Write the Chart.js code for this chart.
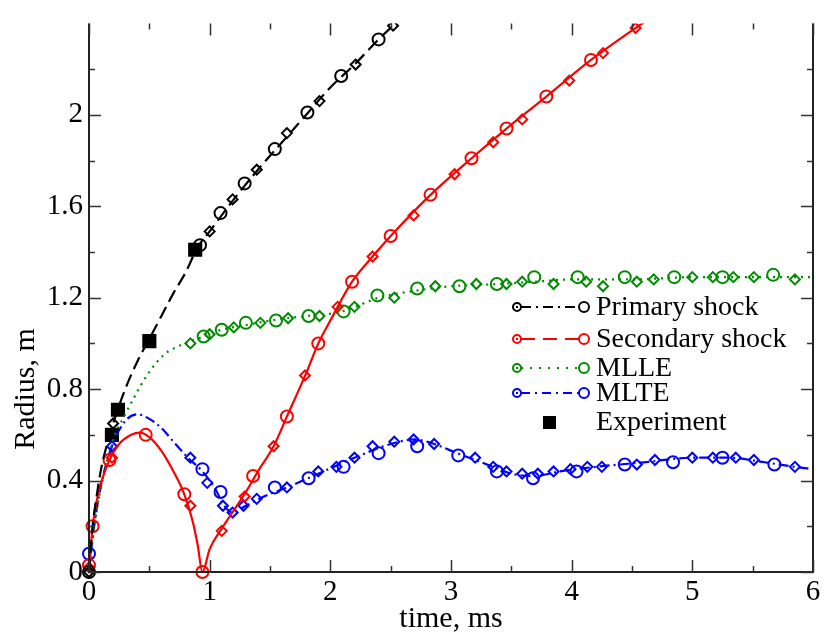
<!DOCTYPE html>
<html>
<head>
<meta charset="utf-8">
<script src="https://cdn.jsdelivr.net/npm/chart.js@4.4.1/dist/chart.umd.min.js"></script>
<style>
html, body { margin: 0; padding: 0; background: #fff; }
#radiusChart { display: block; }
</style>
</head>
<body>
<canvas id="radiusChart" width="824" height="638"></canvas>
<script>
// axis ticks
var xMajor = [0, 1, 2, 3, 4, 5, 6];
var xMinor = [0.5, 1.5, 2.5, 3.5, 4.5, 5.5];
var yMajor = [0, 0.4, 0.8, 1.2, 1.6, 2];
var yMinor = [0.2, 0.6, 1.0, 1.4, 1.8, 2.2];

// Primary shock
var primaryLineX = [0, 0.03, 0.06, 0.1, 0.15, 0.2, 0.3, 0.4, 0.5, 0.6, 0.7, 0.8, 0.9, 1.0, 1.2, 1.4, 1.6, 1.8, 2.0, 2.2, 2.4, 2.6];
var primaryLineY = [0, 0.2, 0.32, 0.45, 0.56, 0.65, 0.80, 0.92, 1.02, 1.12, 1.22, 1.31, 1.42, 1.49, 1.63, 1.76, 1.88, 2.00, 2.12, 2.22, 2.33, 2.43];
var primaryCircX = [0, 0.92, 1.09, 1.29, 1.54, 1.81, 2.09, 2.40];
var primaryCircY = [0, 1.43, 1.57, 1.70, 1.85, 2.01, 2.17, 2.33];
var primaryDiamX = [0, 0.2, 1.0, 1.19, 1.39, 1.64, 1.91, 2.21, 2.52];
var primaryDiamY = [0, 0.65, 1.49, 1.63, 1.76, 1.92, 2.06, 2.22, 2.39];

// Secondary shock
var secondaryLineX = [0, 0.03, 0.08, 0.17, 0.25, 0.35, 0.42, 0.5, 0.6, 0.7, 0.79, 0.86, 0.9, 0.94, 1.0, 1.1, 1.2, 1.3, 1.4, 1.53, 1.64, 1.8, 1.9, 2.0, 2.18, 2.35, 2.5, 2.83, 3.17, 3.46, 3.79, 4.16, 4.53, 4.7];
var secondaryLineY = [0, 0.2, 0.35, 0.49, 0.56, 0.60, 0.61, 0.59, 0.53, 0.44, 0.34, 0.22, 0.12, 0.0, 0.1, 0.19, 0.27, 0.35, 0.44, 0.55, 0.68, 0.87, 1.0, 1.1, 1.27, 1.38, 1.47, 1.65, 1.81, 1.94, 2.08, 2.24, 2.38, 2.44];
var secondaryCircX = [0, 0.03, 0.17, 0.47, 0.79, 0.94, 1.36, 1.64, 1.90, 2.18, 2.50, 2.83, 3.17, 3.46, 3.79, 4.16];
var secondaryCircY = [0.03, 0.2, 0.49, 0.60, 0.34, 0, 0.42, 0.68, 1.00, 1.27, 1.47, 1.65, 1.81, 1.94, 2.08, 2.24];
var secondaryDiamX = [0, 0.19, 0.84, 1.10, 1.29, 1.53, 1.79, 2.06, 2.35, 2.69, 3.03, 3.35, 3.59, 3.98, 4.26, 4.53];
var secondaryDiamY = [0.02, 0.5, 0.29, 0.18, 0.33, 0.55, 0.86, 1.16, 1.38, 1.56, 1.74, 1.88, 1.98, 2.15, 2.27, 2.38];

// MLLE
var mlleLineX = [0, 0.05, 0.1, 0.2, 0.28, 0.37, 0.48, 0.62, 0.75, 0.84, 0.95, 1.1, 1.3, 1.5, 1.8, 2.1, 2.4, 2.7, 3.0, 3.4, 3.7, 4.0, 4.5, 5.0, 5.5, 6.0];
var mlleLineY = [0, 0.22, 0.37, 0.58, 0.67, 0.76, 0.86, 0.95, 0.99, 1.01, 1.03, 1.06, 1.08, 1.10, 1.12, 1.14, 1.20, 1.23, 1.25, 1.26, 1.27, 1.28, 1.28, 1.29, 1.29, 1.29];
var mlleCircX = [0.95, 1.10, 1.30, 1.55, 1.82, 2.11, 2.39, 2.72, 3.07, 3.38, 3.69, 4.05, 4.44, 4.85, 5.25, 5.67];
var mlleCircY = [1.03, 1.06, 1.09, 1.10, 1.12, 1.14, 1.21, 1.24, 1.25, 1.26, 1.29, 1.29, 1.29, 1.29, 1.29, 1.30];
var mlleDiamX = [0.84, 1.0, 1.2, 1.42, 1.65, 1.91, 2.20, 2.53, 2.87, 3.21, 3.46, 3.59, 3.85, 4.12, 4.26, 4.54, 4.68, 5.0, 5.17, 5.34, 5.51, 5.85];
var mlleDiamY = [1.0, 1.04, 1.07, 1.09, 1.11, 1.12, 1.16, 1.20, 1.25, 1.26, 1.26, 1.27, 1.26, 1.27, 1.25, 1.27, 1.28, 1.29, 1.29, 1.29, 1.29, 1.28];

// MLTE
var mlteLineX = [0, 0.03, 0.1, 0.19, 0.3, 0.4, 0.5, 0.6, 0.7, 0.82, 0.94, 1.05, 1.12, 1.19, 1.3, 1.45, 1.64, 1.9, 2.2, 2.5, 2.7, 2.86, 3.05, 3.2, 3.35, 3.5, 3.7, 3.9, 4.2, 4.6, 5.0, 5.3, 5.6, 5.85, 6.0];
var mlteLineY = [0, 0.15, 0.38, 0.55, 0.66, 0.69, 0.67, 0.63, 0.57, 0.50, 0.44, 0.36, 0.29, 0.26, 0.29, 0.33, 0.37, 0.43, 0.50, 0.56, 0.58, 0.56, 0.52, 0.49, 0.46, 0.43, 0.42, 0.44, 0.46, 0.48, 0.50, 0.50, 0.48, 0.46, 0.45];
var mlteCircX = [0, 0.94, 1.09, 1.54, 1.82, 2.11, 2.40, 2.72, 3.06, 3.38, 3.68, 4.04, 4.44, 4.84, 5.25, 5.68];
var mlteCircY = [0.08, 0.45, 0.35, 0.37, 0.41, 0.46, 0.52, 0.55, 0.51, 0.44, 0.41, 0.44, 0.47, 0.48, 0.50, 0.47];
var mlteDiamX = [0.19, 0.84, 0.98, 1.11, 1.19, 1.28, 1.39, 1.64, 1.90, 2.05, 2.20, 2.35, 2.53, 2.69, 2.86, 3.2, 3.35, 3.46, 3.59, 3.72, 3.85, 3.99, 4.13, 4.25, 4.54, 4.69, 5.0, 5.17, 5.36, 5.51, 5.85];
var mlteDiamY = [0.55, 0.50, 0.39, 0.29, 0.26, 0.29, 0.32, 0.37, 0.44, 0.46, 0.50, 0.55, 0.57, 0.58, 0.56, 0.50, 0.46, 0.44, 0.43, 0.43, 0.44, 0.45, 0.46, 0.46, 0.47, 0.49, 0.50, 0.50, 0.50, 0.49, 0.46];

// Experiment
var expX = [0.19, 0.24, 0.5, 0.88];
var expY = [0.6, 0.71, 1.01, 1.41];

var seriesNames = ['Primary shock', 'Secondary shock', 'MLLE', 'MLTE'];
var seriesColors = ['#000000', '#ff0000', '#008b00', '#0000ff'];
var plotDash = [[13, 6], [], [2, 5], [10, 4, 2, 4]];
var legendDash = [[10, 5, 2, 5], [14, 8], [2, 7], [9, 5, 2, 5]];

function pts(xs, ys) {
    return xs.map(function(x, i) { return {x: x, y: ys[i]}; });
}

var seriesData = [
    [primaryLineX, primaryLineY, primaryCircX, primaryCircY, primaryDiamX, primaryDiamY],
    [secondaryLineX, secondaryLineY, secondaryCircX, secondaryCircY, secondaryDiamX, secondaryDiamY],
    [mlleLineX, mlleLineY, mlleCircX, mlleCircY, mlleDiamX, mlleDiamY],
    [mlteLineX, mlteLineY, mlteCircX, mlteCircY, mlteDiamX, mlteDiamY]
];

var datasets = [];
var markerClip = {left: 10, top: 0, right: 10, bottom: 10};
seriesData.forEach(function(s, i) {
    var c = seriesColors[i];
    datasets.push({
        label: seriesNames[i],
        data: pts(s[0], s[1]),
        showLine: true,
        borderColor: c,
        borderWidth: 2.2,
        borderDash: plotDash[i],
        cubicInterpolationMode: 'monotone',
        pointRadius: 0
    });
    datasets.push({
        label: seriesNames[i] + ' (o)',
        data: pts(s[2], s[3]),
        showLine: false,
        pointStyle: 'circle',
        pointRadius: 6,
        pointBorderWidth: 2,
        pointBorderColor: c,
        pointBackgroundColor: 'rgba(0,0,0,0)',
        clip: markerClip
    });
    datasets.push({
        label: seriesNames[i] + ' (d)',
        data: pts(s[4], s[5]),
        showLine: false,
        pointStyle: 'rectRot',
        pointRadius: 5,
        pointBorderWidth: 2,
        pointBorderColor: c,
        pointBackgroundColor: 'rgba(0,0,0,0)',
        clip: markerClip
    });
});
datasets.push({
    label: 'Experiment',
    data: pts(expX, expY),
    showLine: false,
    pointStyle: 'rect',
    pointRadius: 10,
    pointBorderWidth: 0,
    pointBackgroundColor: '#000000',
    clip: markerClip
});

var serif = 'Liberation Serif';

// box, inward ticks on all four sides, axis titles
var frameTicks = {
    id: 'frameTicks',
    afterDatasetsDraw: function(chart) {
        var ctx = chart.ctx, a = chart.chartArea;
        var x = chart.scales.x, y = chart.scales.y;
        ctx.save();
        ctx.strokeStyle = '#222';
        ctx.lineWidth = 2;
        ctx.beginPath();
        ctx.moveTo(a.left, a.top);
        ctx.lineTo(a.left, a.bottom);
        ctx.lineTo(a.right, a.bottom);
        ctx.lineTo(a.right, a.top);
        ctx.stroke();

        ctx.lineWidth = 1.5;
        ctx.strokeStyle = '#333';
        ctx.beginPath();
        function xt(v, len) {
            var p = Math.round(x.getPixelForValue(v)) + 0.5;
            ctx.moveTo(p, a.bottom); ctx.lineTo(p, a.bottom - len);
            ctx.moveTo(p, a.top); ctx.lineTo(p, a.top + len);
        }
        function yt(v, len) {
            var p = Math.round(y.getPixelForValue(v)) + 0.5;
            ctx.moveTo(a.left, p); ctx.lineTo(a.left + len, p);
            ctx.moveTo(a.right, p); ctx.lineTo(a.right - len, p);
        }
        xMajor.forEach(function(v) { xt(v, 12); });
        xMinor.forEach(function(v) { xt(v, 6); });
        yMajor.forEach(function(v) { yt(v, 12); });
        yMinor.forEach(function(v) { yt(v, 6); });
        ctx.stroke();

        ctx.fillStyle = '#000';
        ctx.font = '30px "' + serif + '"';
        ctx.textAlign = 'center';
        ctx.textBaseline = 'middle';
        ctx.fillText('time, ms', (a.left + a.right) / 2, 619);
        ctx.translate(26, 389);
        ctx.rotate(-Math.PI / 2);
        ctx.fillText('Radius, m', 0, 0);
        ctx.restore();
    }
};

// legend inside the plot
var insideLegend = {
    id: 'insideLegend',
    afterDraw: function(chart) {
        var ctx = chart.ctx;
        var rowY = [307, 339, 368, 393, 422];
        var x0 = 517, x1 = 584, tx = 596;
        ctx.save();
        ctx.font = '28px "' + serif + '"';
        ctx.textAlign = 'left';
        ctx.textBaseline = 'middle';
        seriesNames.forEach(function(name, i) {
            var c = seriesColors[i], yy = rowY[i];
            ctx.strokeStyle = c;
            ctx.lineWidth = 2;
            ctx.setLineDash(legendDash[i]);
            ctx.beginPath();
            ctx.moveTo(x0 + 4, yy); ctx.lineTo(x1 - 5, yy);
            ctx.stroke();
            ctx.setLineDash([]);
            ctx.beginPath();
            ctx.arc(x0, yy, 4, 0, Math.PI * 2);
            ctx.stroke();
            ctx.beginPath();
            ctx.arc(x1, yy, 5, 0, Math.PI * 2);
            ctx.stroke();
            ctx.fillStyle = c;
            ctx.fillRect(x0 - 1, yy - 1, 2, 2);
            ctx.fillStyle = '#000';
            ctx.fillText(name, tx, yy + 1);
        });
        ctx.fillStyle = '#000';
        ctx.fillRect(543, rowY[4] - 6, 13, 13);
        ctx.fillText('Experiment', tx, rowY[4] + 1);
        ctx.restore();
    }
};

var ctx = document.getElementById('radiusChart').getContext('2d');
var chart = new Chart(ctx, {
    type: 'scatter',
    data: {datasets: datasets},
    options: {
        responsive: false,
        animation: false,
        devicePixelRatio: 1,
        layout: {padding: {top: 0, right: 11, bottom: 0, left: 0}},
        plugins: {legend: {display: false}, tooltip: {enabled: false}},
        scales: {
            x: {
                type: 'linear',
                min: 0,
                max: 6,
                afterFit: function(scale) { scale.height = 66; },
                afterBuildTicks: function(scale) {
                    scale.ticks = xMajor.map(function(v) { return {value: v}; });
                },
                grid: {display: false, drawTicks: false},
                border: {display: false},
                ticks: {
                    color: '#000',
                    padding: 3,
                    maxRotation: 0,
                    autoSkip: false,
                    font: {family: serif, size: 29},
                    callback: function(v) { return String(v); }
                }
            },
            y: {
                type: 'linear',
                min: 0,
                max: 2.4,
                afterFit: function(scale) { scale.width = 89; },
                afterBuildTicks: function(scale) {
                    scale.ticks = yMajor.map(function(v) { return {value: v}; });
                },
                grid: {display: false, drawTicks: false},
                border: {display: false},
                ticks: {
                    color: '#000',
                    padding: 6,
                    autoSkip: false,
                    font: {family: serif, size: 29},
                    callback: function(v) { return String(v); }
                }
            }
        }
    },
    plugins: [frameTicks, insideLegend]
});
</script>
</body>
</html>
